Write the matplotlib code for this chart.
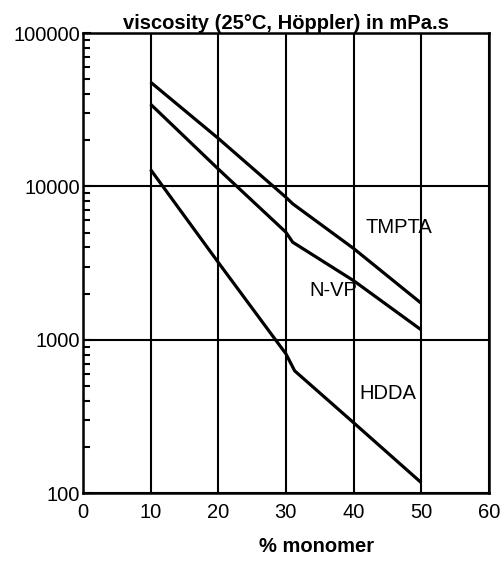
import numpy as np
import matplotlib.pyplot as plt
from matplotlib.ticker import LogLocator, NullFormatter, FixedLocator

plt.rcParams['font.family'] = ['Liberation Sans', 'DejaVu Sans']

# values
monomer = [10, 20, 30, 31, 40, 50]
tmpta = [47900, 20600, 8500, 7710, 3940, 1730]
nvp = [34400, 13000, 5030, 4330, 2430, 1160]
hdda_x = [10, 20, 30, 31.3, 40, 50]
hdda = [12900, 3200, 810, 627, 288, 117]

labels = ['TMPTA', 'N-VP', 'HDDA']
label_x = [41.7, 33.5, 40.9]
label_y = [5400, 2090, 446]

fig = plt.figure(figsize=(5.02, 5.61), dpi=100)
ax = fig.add_axes([0.165, 0.121, 0.809, 0.820])

lw = 2.3
ax.plot(monomer, tmpta, color='black', lw=lw, solid_capstyle='butt')
ax.plot(monomer, nvp, color='black', lw=lw, solid_capstyle='butt')
ax.plot(hdda_x, hdda, color='black', lw=lw, solid_capstyle='butt')

for t, x, y in zip(labels, label_x, label_y):
    ax.text(x, y, t, fontsize=14.5, ha='left', va='center')

ax.set_yscale('log')
ax.set_xlim(0, 60)
ax.set_ylim(100, 100000)

ax.xaxis.set_major_locator(FixedLocator([0, 10, 20, 30, 40, 50, 60]))
ax.yaxis.set_major_locator(FixedLocator([100, 1000, 10000, 100000]))
ax.set_yticklabels(['100', '1000', '10000', '100000'])
ax.yaxis.set_minor_locator(LogLocator(base=10, subs=np.arange(2, 10)))
ax.yaxis.set_minor_formatter(NullFormatter())

ax.tick_params(axis='x', length=0, pad=7, labelsize=14.5)
ax.tick_params(axis='y', which='major', direction='in', length=6, width=1.5,
               pad=2, labelsize=14.5)
ax.tick_params(axis='y', which='minor', direction='in', length=5, width=1.5)

ax.grid(True, which='major', color='black', lw=1.5)
for s in ax.spines.values():
    s.set_linewidth(1.8)

ax.set_title('viscosity (25\u00b0C, H\u00f6ppler) in mPa.s', fontsize=14.5,
             fontweight='bold', pad=3)
fig.text(317 / 502, 1 - 547 / 561, '% monomer', fontsize=14.5,
         fontweight='bold', ha='center', va='center')

fig.savefig('out.png', dpi=100)
